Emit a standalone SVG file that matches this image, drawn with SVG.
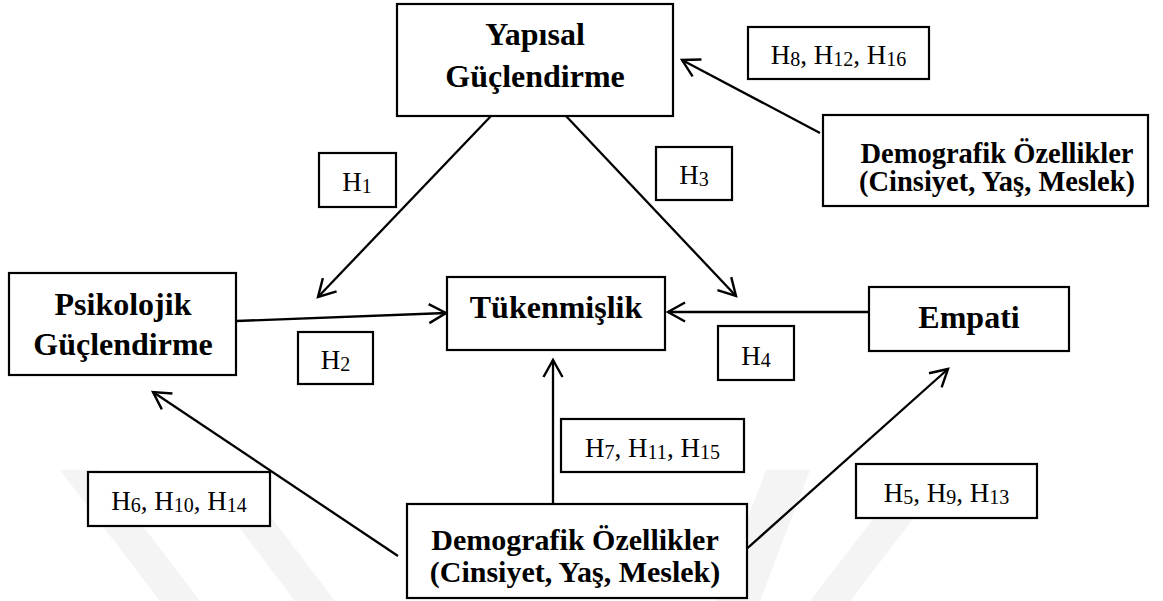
<svg xmlns="http://www.w3.org/2000/svg" width="1163" height="601" viewBox="0 0 1163 601">
<style>
.box{fill:#fff;stroke:#000;stroke-width:2.2}
.lbl{fill:#fff;stroke:#000;stroke-width:2.2}
.t{font-family:"Liberation Serif","Times New Roman",serif;font-weight:bold;font-size:32px;fill:#000;text-anchor:middle}
.d{font-size:30px}
.d2{font-size:28.5px}
.h{font-family:"Liberation Serif","Times New Roman",serif;font-size:27px;fill:#000;text-anchor:middle}
.s{font-size:20px}
.c{fill:none;stroke:#000;stroke-width:2.3}
.wm{fill:#f4f4f4}
</style>
<defs>
<marker id="arr" markerUnits="userSpaceOnUse" viewBox="0 0 40 40" refX="20" refY="20" markerWidth="40" markerHeight="40" orient="auto">
<path d="M3,10.5 L20,20 L3,29.5" fill="none" stroke="#000" stroke-width="2.4"/>
</marker>
</defs>
<rect width="1163" height="601" fill="#fff"/>
<g id="watermark">
<polygon class="wm" points="60,470 100,470 200,601 160,601"/>
<polygon class="wm" points="200,476 240,476 335,601 295,601"/>
<polygon class="wm" points="766,470 810,470 760,601 716,601"/>
<polygon class="wm" points="880,510 920,510 850,601 810,601"/>
</g>
<g id="connectors">
<line class="c" x1="491" y1="116" x2="318" y2="297" marker-end="url(#arr)"/>
<line class="c" x1="566" y1="116" x2="736" y2="296" marker-end="url(#arr)"/>
<line class="c" x1="236" y1="321" x2="446" y2="313" marker-end="url(#arr)"/>
<line class="c" x1="869" y1="312" x2="668" y2="312" marker-end="url(#arr)"/>
<line class="c" x1="820" y1="133" x2="682" y2="60" marker-end="url(#arr)"/>
<line class="c" x1="398" y1="556" x2="153" y2="392" marker-end="url(#arr)"/>
<line class="c" x1="553" y1="504" x2="553" y2="360" marker-end="url(#arr)"/>
<line class="c" x1="742" y1="553" x2="948" y2="369" marker-end="url(#arr)"/>
</g>
<g id="yapisal">
<rect class="box" x="397" y="4" width="276" height="112"/>
<text class="t" x="535" y="45">Yapısal</text>
<text class="t" x="535" y="87">Güçlendirme</text>
</g>
<g id="psikolojik">
<rect class="box" x="9" y="273" width="227" height="102"/>
<text class="t" x="123" y="315">Psikolojik</text>
<text class="t" x="123" y="355">Güçlendirme</text>
</g>
<g id="tukenmislik">
<rect class="box" x="447" y="277" width="218" height="73"/>
<text class="t" x="556" y="318">Tükenmişlik</text>
</g>
<g id="empati">
<rect class="box" x="869" y="287" width="200" height="64"/>
<text class="t" x="969" y="328">Empati</text>
</g>
<g id="demo-bottom">
<rect class="box" x="407" y="504" width="340" height="94"/>
<text class="t d" x="575" y="550">Demografik Özellikler</text>
<text class="t d" x="575" y="582">(Cinsiyet, Yaş, Meslek)</text>
</g>
<g id="demo-right">
<rect class="box" x="823" y="115" width="325" height="91"/>
<text class="t d2" x="997" y="163">Demografik Özellikler</text>
<text class="t d2" x="997" y="191">(Cinsiyet, Yaş, Meslek)</text>
</g>
<g id="h1">
<rect class="lbl" x="319" y="153" width="77" height="54"/>
<text class="h" x="357" y="191">H<tspan class="s" dy="2">1</tspan></text>
</g>
<g id="h3">
<rect class="lbl" x="656" y="147" width="76" height="53"/>
<text class="h" x="694" y="184">H<tspan class="s" dy="2">3</tspan></text>
</g>
<g id="h2">
<rect class="lbl" x="298" y="332" width="75" height="52"/>
<text class="h" x="335.5" y="369">H<tspan class="s" dy="2">2</tspan></text>
</g>
<g id="h4">
<rect class="lbl" x="718" y="326" width="76" height="54"/>
<text class="h" x="756" y="365">H<tspan class="s" dy="2">4</tspan></text>
</g>
<g id="h8">
<rect class="lbl" x="748" y="27" width="181" height="52"/>
<text class="h" x="838.5" y="64">H<tspan class="s" dy="2">8</tspan><tspan dy="-2">, H</tspan><tspan class="s" dy="2">12</tspan><tspan dy="-2">, H</tspan><tspan class="s" dy="2">16</tspan></text>
</g>
<g id="h7">
<rect class="lbl" x="561" y="419" width="183" height="53"/>
<text class="h" x="652.5" y="457">H<tspan class="s" dy="2">7</tspan><tspan dy="-2">, H</tspan><tspan class="s" dy="2">11</tspan><tspan dy="-2">, H</tspan><tspan class="s" dy="2">15</tspan></text>
</g>
<g id="h6">
<rect class="lbl" x="88" y="472" width="182" height="54"/>
<text class="h" x="179" y="510">H<tspan class="s" dy="2">6</tspan><tspan dy="-2">, H</tspan><tspan class="s" dy="2">10</tspan><tspan dy="-2">, H</tspan><tspan class="s" dy="2">14</tspan></text>
</g>
<g id="h5">
<rect class="lbl" x="856" y="464" width="181" height="54"/>
<text class="h" x="946.5" y="502">H<tspan class="s" dy="2">5</tspan><tspan dy="-2">, H</tspan><tspan class="s" dy="2">9</tspan><tspan dy="-2">, H</tspan><tspan class="s" dy="2">13</tspan></text>
</g>
</svg>
